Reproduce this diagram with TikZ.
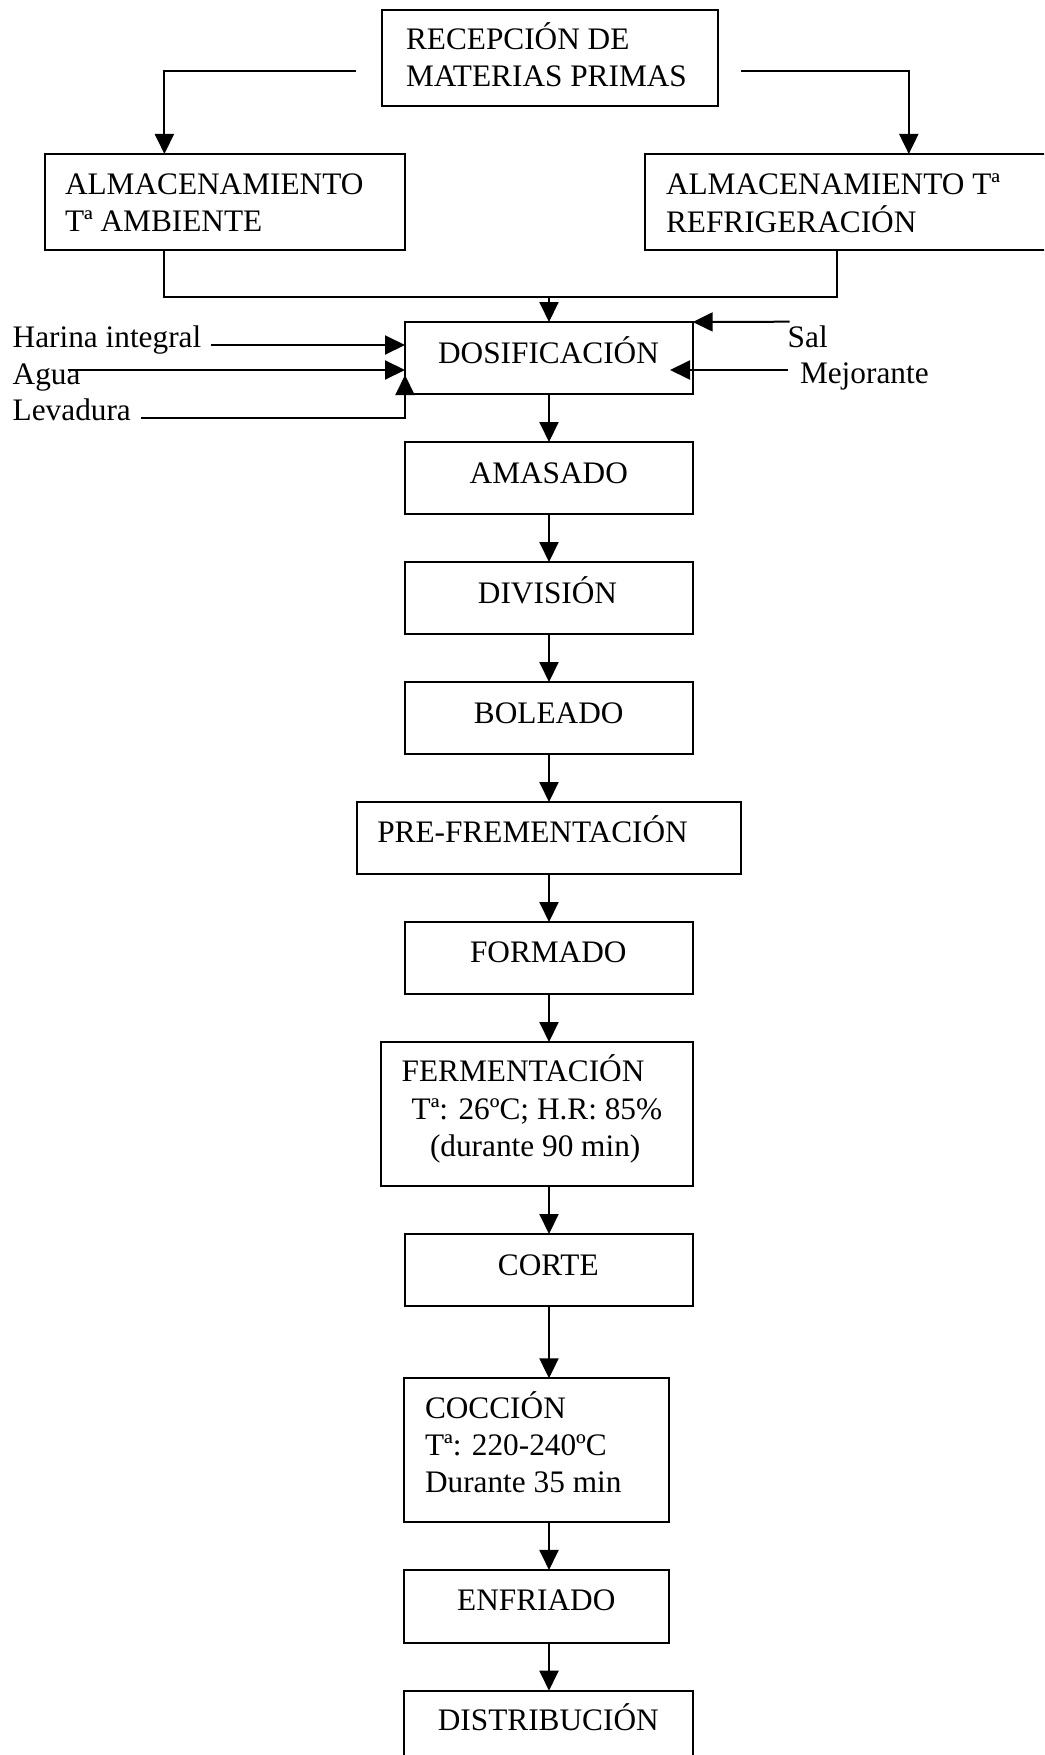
\documentclass[tikz,border=0pt]{standalone}
\usepackage{fontspec}
\setmainfont{Liberation Serif}
\usetikzlibrary{arrows.meta,calc}
\begin{document}
\begin{tikzpicture}[x=0.5pt,y=-0.5pt,
  box/.style={draw,line width=1pt,rectangle,inner sep=0pt,outer sep=0pt},
  lbl/.style={inner sep=0pt,outer sep=0pt,font=\fontsize{15.65pt}{18.5pt}\selectfont},
  conn/.style={line width=1pt},
  arr/.style={conn,-{Triangle[length=10pt,width=9.5pt]}}]
\path[use as bounding box] (0,0) rectangle (1044,1755);
\clip (0,0) rectangle (1044,1755);

% boxes
\node[box,minimum width=168.3pt,minimum height=48pt] (rec) at (550,58) {};
\node[box,minimum width=180.1pt,minimum height=48pt] (ambA) at (224.7,202) {};
\node[box,minimum width=207.75pt,minimum height=48pt] (ambR) at (852.25,202) {};
\node[box,minimum width=143.85pt,minimum height=36pt] (dos) at (548.85,358) {};
\node[box,minimum width=144.1pt,minimum height=36pt] (ama) at (548.6,478) {};
\node[box,minimum width=144.1pt,minimum height=36pt] (div) at (548.6,598) {};
\node[box,minimum width=144.1pt,minimum height=36pt] (bol) at (548.6,718) {};
\node[box,minimum width=192.15pt,minimum height=36pt] (pre) at (548.85,838) {};
\node[box,minimum width=144.1pt,minimum height=36pt] (frm) at (548.6,958) {};
\node[box,minimum width=156pt,minimum height=72pt] (fer) at (536.7,1114) {};
\node[box,minimum width=144.1pt,minimum height=36pt] (cor) at (548.6,1270) {};
\node[box,minimum width=132.5pt,minimum height=72pt] (coc) at (536.75,1450.3) {};
\node[box,minimum width=132.5pt,minimum height=36.35pt] (enf) at (536.75,1606.3) {};
\node[box,minimum width=144.4pt,minimum height=36pt] (dis) at (548.7,1726.7) {};

% texts
\node[lbl,anchor=base west] (tRec) at (406,50) {\begin{tabular}[t]{@{}l@{}}RECEPCIÓN DE\\MATERIAS PRIMAS\end{tabular}};
\node[lbl,anchor=base west] (tAmbA) at (65,195) {\begin{tabular}[t]{@{}l@{}}ALMACENAMIENTO\\Tª AMBIENTE\end{tabular}};
\node[lbl,anchor=base west] (tAmbR) at (666,195) {\begin{tabular}[t]{@{}l@{}}ALMACENAMIENTO Tª\\REFRIGERACIÓN\end{tabular}};
\node[lbl,anchor=base] (tDos) at (548.5,363.3) {DOSIFICACIÓN};
\node[lbl,anchor=base west] (tHar) at (12.7,347.3) {Harina integral};
\node[lbl,anchor=base west] (tAg) at (12.7,384) {Agua};
\node[lbl,anchor=base west] (tLev) at (12.7,420.5) {Levadura};
\node[lbl,anchor=base west] (tSal) at (787.7,347.7) {Sal};
\node[lbl,anchor=base west] (tMej) at (800,383.3) {Mejorante};
\node[lbl,anchor=base] (tAma) at (548.8,483.3) {AMASADO};
\node[lbl,anchor=base] (tDiv) at (547.5,603.3) {DIVISIÓN};
\node[lbl,anchor=base] (tBol) at (548.7,723.3) {BOLEADO};
\node[lbl,anchor=base west] (tPre) at (377.3,842.7) {PRE-FREMENTACIÓN};
\node[lbl,anchor=base] (tFrm) at (548.3,962.7) {FORMADO};
\node[lbl,anchor=base west] (tFer1) at (401.7,1081.7) {FERMENTACIÓN};
\node[lbl,anchor=base west] (tFer2) at (411.7,1119) {Tª: 26ºC; H.R: 85\%};
\node[lbl,anchor=base west] (tFer3) at (430,1156) {(durante 90 min)};
\node[lbl,anchor=base] (tCor) at (548.3,1275) {CORTE};
\node[lbl,anchor=base west] (tCoc) at (425,1418.3) {\begin{tabular}[t]{@{}l@{}}COCCIÓN\\Tª: 220-240ºC\\Durante 35 min\end{tabular}};
\node[lbl,anchor=base] (tEnf) at (536.3,1610.7) {ENFRIADO};
\node[lbl,anchor=base] (tDis) at (548.3,1730.7) {DISTRIBUCIÓN};

% connectors
\coordinate (ax) at (549,0);
\coordinate (recL) at (356,70.7);
\coordinate (recR) at (741,70.7);
\coordinate (merge) at (549,297);
\draw[arr] (recL) -| ($(ambA.north)+(-60.3,0)$);
\draw[arr] (recR) -| ($(ambR.north)+(56.55,0)$);
\draw[conn] ($(ambA.south)+(-60.3,0)$) |- (merge) -| ($(ambR.south)+(-15.25,0)$);
\draw[arr] (merge) -- (dos.north -| ax);

\draw[arr] ($(tHar.base east)+(10,-2.3)$) -- (dos.west |- 0,345);
\draw[arr] ($(tAg.base west)+(55,-14)$) -- (dos.west |- 0,370);
\draw[arr] ($(tLev.base east)+(10,-3)$) -| (dos.west |- 0,375);
\draw[arr] ($(tSal.base west)+(2,-26)$) -- (dos.north east);
\draw[arr] ($(tMej.base west)+(-12,-13.3)$) -- ($(dos.east |- 0,370)+(-22.7,0)$);

\draw[arr] (dos.south -| ax) -- (ama.north -| ax);
\draw[arr] (ama.south -| ax) -- (div.north -| ax);
\draw[arr] (div.south -| ax) -- (bol.north -| ax);
\draw[arr] (bol.south -| ax) -- (pre.north -| ax);
\draw[arr] (pre.south -| ax) -- (frm.north -| ax);
\draw[arr] (frm.south -| ax) -- (fer.north -| ax);
\draw[arr] (fer.south -| ax) -- (cor.north -| ax);
\draw[arr] (cor.south -| ax) -- (coc.north -| ax);
\draw[arr] (coc.south -| ax) -- (enf.north -| ax);
\draw[arr] (enf.south -| ax) -- (dis.north -| ax);
\end{tikzpicture}
\end{document}
